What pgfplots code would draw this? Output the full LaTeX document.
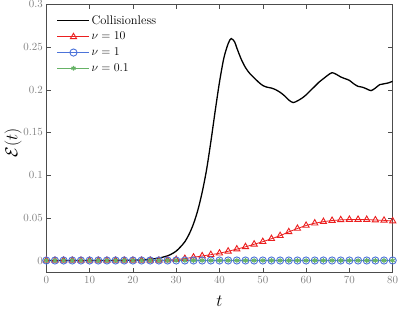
\documentclass[border=0pt]{standalone}
\usepackage{pgfplots}
\pgfplotsset{compat=1.18}
\definecolor{cred}{rgb}{0.92,0.12,0.12}
\definecolor{cblue}{rgb}{0.30,0.45,0.85}
\definecolor{cgreen}{rgb}{0.40,0.70,0.40}
\begin{document}
\begin{tikzpicture}
\begin{axis}[
  scale only axis,
  width=346.4bp, height=268.3bp,
  xmin=0, xmax=80, ymin=-0.0143, ymax=0.3,
  xtick={0,10,...,80},
  ytick={0,0.05,0.1,0.15,0.2,0.25,0.3},
  scaled y ticks=false,
  yticklabel style={/pgf/number format/fixed,/pgf/number format/precision=2},
  tick align=inside,
  major tick length=4.3bp,
  minor tick num=0,
  axis line style={draw=black!70, line width=0.5pt},
  every tick/.style={draw=black!70, line width=0.5pt},
  tick label style={font=\fontsize{10.5}{12}\selectfont, text=black!50},
  xticklabel style={yshift=-0.5bp},
  xlabel={$t$}, ylabel={$\mathcal{E}(t)$},
  label style={font=\fontsize{19}{22}\selectfont},
  xlabel style={at={(axis description cs:0.5,-0.105)}, anchor=center},
  ylabel style={at={(axis description cs:-0.0961,0.483)}, anchor=center},
  legend style={draw=none, fill=none, at={(0.03,0.965)}, anchor=north west,
    font=\fontsize{12.5}{15}\selectfont, row sep=3.5bp, inner sep=0pt,
    nodes={inner sep=1.5bp}},
  legend cell align=left,
  legend image code/.code={\draw[mark repeat=2,mark phase=2] plot coordinates {(0bp,0bp) (16bp,0bp) (32bp,0bp)};},
]
\addlegendimage{black, line width=1.2pt}
\addlegendentry{Collisionless}
\addplot[cred, line width=0.8pt, mark=triangle, mark size=3.6pt, mark options={line width=0.9pt, fill=cred!25}] coordinates {
(0,0)(2,0)(4,0)(6,0)(8,0)(10,0)(12,0)(14,0)(16,0)(18,0)(20,0)(22,0)(24,0)(26,0)
(28,0.0005)(30,0.001)(32,0.0022)(34,0.0038)(36,0.0053)(38,0.0068)(40,0.0085)
(42,0.0108)(44,0.0133)(46,0.016)(48,0.019)(50,0.022)(52,0.0255)(54,0.029)
(56,0.0335)(58,0.0375)(60,0.041)(62,0.0437)(64,0.0455)(66,0.0468)(68,0.0476)
(70,0.048)(72,0.048)(74,0.0479)(76,0.0474)(78,0.047)(80,0.0462)};
\addlegendentry{$\nu=10$}
\addplot[cblue, line width=0.8pt, mark=o, mark size=3.6pt, mark options={line width=0.9pt}] coordinates {
(0,0)(2,0)(4,0)(6,0)(8,0)(10,0)(12,0)(14,0)(16,0)(18,0)(20,0)(22,0)(24,0)(26,0)
(28,0)(30,0)(32,0)(34,0)(36,0)(38,0)(40,0)(42,0)(44,0)(46,0)(48,0)(50,0)(52,0)
(54,0)(56,0)(58,0)(60,0)(62,0)(64,0)(66,0)(68,0)(70,0)(72,0)(74,0)(76,0)(78,0)(80,0)};
\addlegendentry{$\nu=1$}
\addplot[cgreen, line width=0.8pt, mark=asterisk, mark size=2.4pt, mark options={line width=1.1pt}] coordinates {
(0,0)(2,0)(4,0)(6,0)(8,0)(10,0)(12,0)(14,0)(16,0)(18,0)(20,0)(22,0)(24,0)(26,0)
(28,0)(30,0)(32,0)(34,0)(36,0)(38,0)(40,0)(42,0)(44,0)(46,0)(48,0)(50,0)(52,0)
(54,0)(56,0)(58,0)(60,0)(62,0)(64,0)(66,0)(68,0)(70,0)(72,0)(74,0)(76,0)(78,0)(80,0)};
\addlegendentry{$\nu=0.1$}
\addplot[black, line width=1.3pt, smooth, forget plot] coordinates {
(0,0)(10,0)(16,0.0001)(20,0.0004)(22,0.0008)(24,0.0015)(26,0.0028)(28,0.0055)
(29,0.0078)(30,0.011)(31,0.016)(32,0.022)(33,0.031)(34,0.043)(35,0.059)(36,0.080)
(37,0.106)(38,0.139)(39,0.175)(40,0.209)(41,0.237)(42,0.254)(42.7,0.260)(43.5,0.256)
(44,0.249)(45,0.236)(46,0.226)(47,0.219)(48,0.214)(49,0.209)(50,0.205)(51,0.203)
(52,0.202)(53,0.200)(54,0.197)(55,0.193)(56,0.188)(57,0.185)(58,0.187)(59,0.190)
(60,0.194)(61,0.199)(62,0.204)(63,0.209)(64,0.213)(65,0.217)(66,0.220)(67,0.218)
(68,0.215)(69,0.213)(70,0.211)(71,0.207)(72,0.204)(73,0.203)(74,0.201)(75,0.199)
(76,0.202)(77,0.206)(78,0.207)(79,0.208)(80,0.210)};
\end{axis}
\pgfresetboundingbox
\path[use as bounding box] (-46.3bp,-36.3bp) rectangle (352.7bp,272.7bp);
\end{tikzpicture}
\end{document}
